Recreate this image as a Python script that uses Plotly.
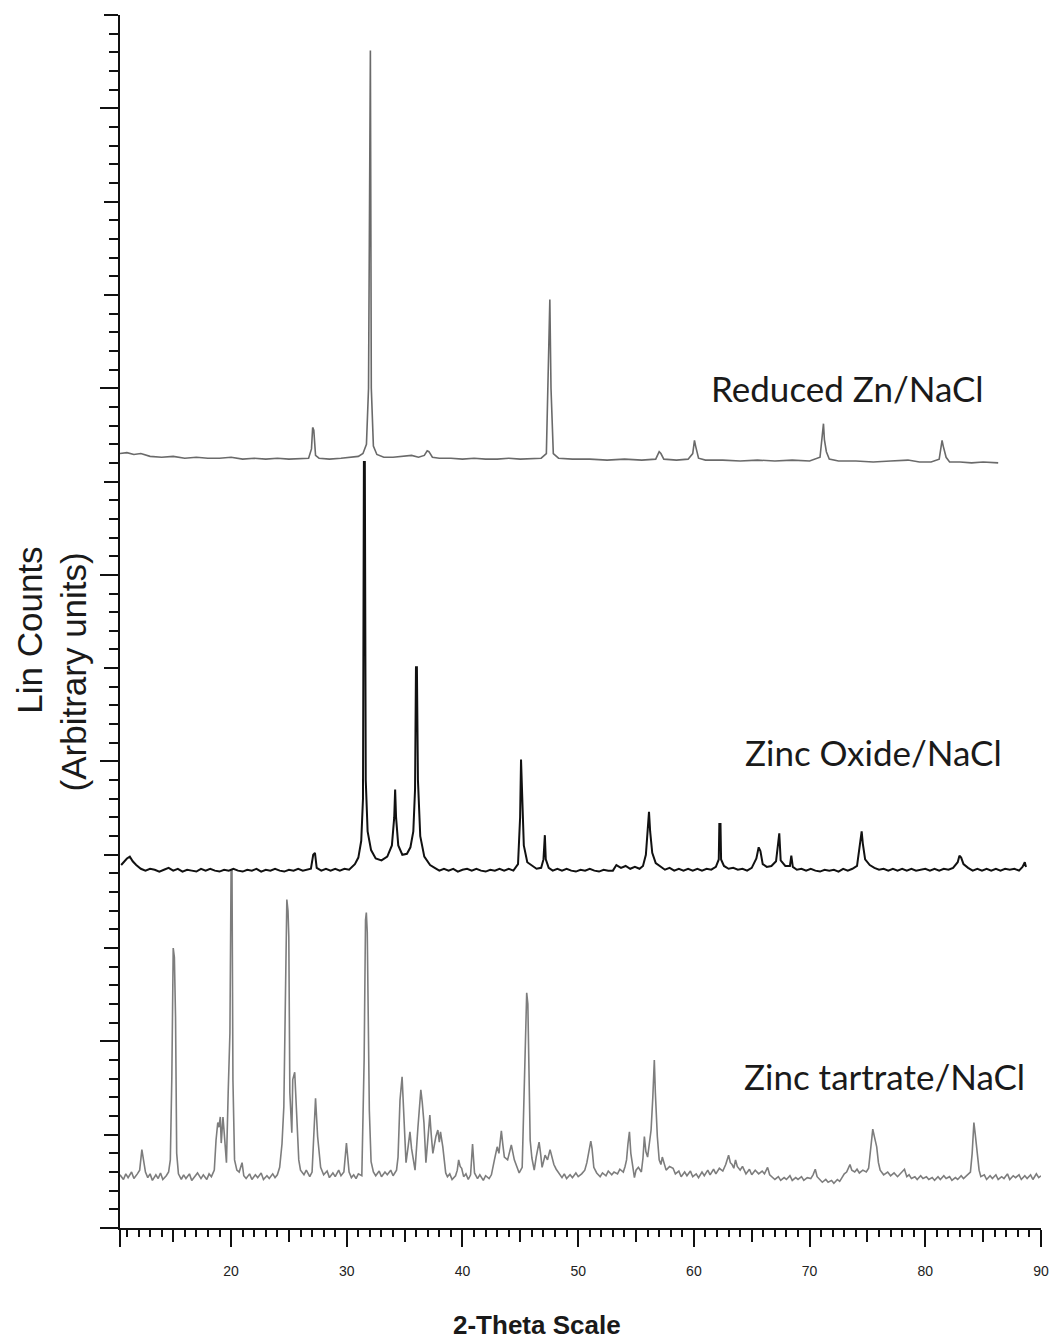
import plotly.graph_objects as go

# ---------------- data ----------------
zn_x = [10.4, 11.0, 11.6, 12.2, 13.0, 14.0, 15.0, 16.0, 17.0, 18.0, 19.0, 20.0, 21.0, 22.0, 23.0, 24.0,
        25.0, 26.0, 26.7, 26.95, 27.05, 27.15, 27.3, 27.6, 28.5, 29.5, 30.5, 31.0, 31.4, 31.7, 31.88,
        31.98, 32.04, 32.12, 32.3, 32.6, 33.2, 34.0, 35.0, 35.6, 36.2, 36.7, 36.95, 37.1, 37.4, 38.0,
        39.0, 40.0, 41.0, 42.0, 43.0, 44.0, 45.0, 46.0, 46.8, 47.25, 47.45, 47.55, 47.65, 47.85, 48.3,
        49.5, 51.0, 52.5, 54.0, 55.5, 56.7, 57.0, 57.15, 57.4, 58.5, 59.5, 59.9, 60.05, 60.15, 60.4,
        61.0, 62.5, 64.0, 65.5, 67.0, 68.5, 70.0, 70.9, 71.1, 71.2, 71.28, 71.45, 71.7, 72.5, 74.0,
        75.5, 77.0, 78.5, 79.5, 80.5, 81.2, 81.45, 81.55, 81.65, 81.8, 82.1, 83.0, 84.0, 85.0, 86.3]
zn_y = [830, 831, 829, 830, 827, 826, 827, 825, 826, 825, 825, 826, 824, 825, 824, 825,
        824, 825, 825, 835, 858, 855, 828, 825, 824, 825, 826, 827, 830, 840, 900,
        1262, 1262, 900, 838, 829, 826, 826, 827, 828, 826, 828, 833, 832, 826, 825,
        825, 824, 825, 824, 824, 825, 824, 825, 825, 830, 930, 995, 900, 830, 825,
        824, 824, 823, 824, 823, 824, 832, 830, 824, 823, 824, 830, 844, 838, 825,
        823, 823, 822, 823, 822, 823, 822, 826, 850, 862, 845, 832, 824, 822, 822,
        821, 822, 823, 821, 821, 824, 844, 838, 832, 826, 821, 821, 820, 821, 820]

zno_x = [10.5, 10.8, 11.0, 11.25, 11.5, 11.8, 12.2, 12.6, 13.0, 13.4, 13.8, 14.2, 14.6, 15.0, 15.4,
         15.8, 16.2, 16.6, 17.0, 17.4, 17.8, 18.2, 18.6, 19.0, 19.4, 19.8, 20.2, 20.6, 21.0, 21.4,
         21.8, 22.2, 22.6, 23.0, 23.4, 23.8, 24.2, 24.6, 25.0, 25.4, 25.8, 26.2, 26.6, 26.9, 27.1,
         27.25, 27.4, 27.8, 28.2, 28.6, 29.0, 29.4, 29.8, 30.2, 30.7, 31.0, 31.25, 31.4, 31.48,
         31.56, 31.64, 31.8, 32.1, 32.5, 33.0, 33.5, 33.9, 34.1, 34.18, 34.26, 34.45, 34.8, 35.2,
         35.5, 35.75, 35.9, 35.98, 36.06, 36.15, 36.35, 36.7, 37.2, 37.6, 38.0, 38.4, 38.8, 39.2,
         39.6, 40.0, 40.4, 40.8, 41.2, 41.6, 42.0, 42.4, 42.8, 43.2, 43.6, 44.0, 44.4, 44.8, 44.98,
         45.06, 45.14, 45.3, 45.6, 46.0, 46.4, 46.8, 47.0, 47.12, 47.2, 47.45, 47.8, 48.2, 48.6,
         49.0, 49.4, 49.8, 50.2, 50.6, 51.0, 51.4, 51.8, 52.2, 52.6, 53.0, 53.3, 53.7, 54.1, 54.5,
         54.9, 55.3, 55.6, 55.85, 56.0, 56.12, 56.22, 56.4, 56.7, 57.1, 57.5, 57.9, 58.3, 58.7,
         59.1, 59.5, 59.9, 60.3, 60.7, 61.1, 61.5, 61.9, 62.15, 62.2, 62.3, 62.35, 62.6, 63.0,
         63.4, 63.8, 64.2, 64.6, 65.0, 65.4, 65.6, 65.75, 65.95, 66.3, 66.7, 67.1, 67.38, 67.5,
         67.9, 68.3, 68.42, 68.55, 68.9, 69.3, 69.7, 70.1, 70.5, 70.9, 71.3, 71.7, 72.1, 72.5,
         72.9, 73.3, 73.7, 74.1, 74.35, 74.5, 74.6, 74.8, 75.2, 75.6, 76.0, 76.4, 76.8, 77.2,
         77.6, 78.0, 78.4, 78.8, 79.2, 79.6, 80.0, 80.4, 80.8, 81.2, 81.6, 82.0, 82.4, 82.8,
         82.95, 83.1, 83.3, 83.7, 84.1, 84.5, 84.9, 85.3, 85.7, 86.1, 86.5, 86.9, 87.3, 87.7,
         88.1, 88.4, 88.6, 88.7]
zno_y = [389, 393, 396, 398, 393, 389, 385, 383, 385, 384, 382, 384, 386, 383, 385,
         382, 384, 383, 382, 385, 383, 385, 383, 382, 384, 383, 385, 383, 382, 384,
         383, 385, 382, 384, 383, 385, 383, 382, 384, 383, 385, 383, 384, 385, 400,
         402, 386, 383, 385, 383, 385, 383, 385, 384, 390, 397, 415, 460, 821,
         821, 480, 425, 405, 396, 394, 398, 410, 440, 470, 440, 410, 400, 401,
         408, 425, 470, 601, 601, 480, 420, 398, 389, 386, 383, 385, 383, 385,
         382, 384, 385, 383, 385, 383, 382, 384, 383, 385, 383, 385, 383, 390, 440,
         502, 470, 410, 392, 388, 385, 386, 395, 421, 395, 386, 383, 385, 383,
         385, 383, 382, 384, 383, 385, 383, 382, 384, 383, 383, 389, 386, 388, 385,
         387, 385, 388, 400, 430, 446, 425, 402, 391, 387, 384, 386, 383, 385,
         383, 385, 383, 385, 383, 385, 384, 387, 395, 433, 433, 395, 388, 385,
         386, 384, 385, 383, 386, 396, 408, 404, 390, 387, 388, 393, 423, 394,
         388, 388, 399, 387, 384, 385, 383, 385, 383, 382, 384, 383, 384, 382,
         385, 383, 385, 388, 410, 425, 412, 395, 389, 386, 384, 385, 383, 385,
         383, 385, 383, 385, 383, 384, 385, 383, 385, 383, 385, 384, 386, 392,
         399, 397, 390, 386, 383, 385, 383, 385, 383, 385, 383, 385, 384, 385,
         383, 387, 392, 387]

tart_x = [10.4, 10.7, 10.9, 11.1, 11.4, 11.6, 11.9, 12.1, 12.29, 12.45, 12.6, 12.8, 13.0, 13.2, 13.5,
          13.7, 13.9, 14.1, 14.4, 14.6, 14.75, 14.88, 15.0, 15.1, 15.2, 15.3, 15.45, 15.7, 15.9,
          16.1, 16.4, 16.6, 16.9, 17.1, 17.4, 17.6, 17.9, 18.1, 18.3, 18.55, 18.7, 18.85, 18.95,
          19.07, 19.15, 19.3, 19.45, 19.6, 19.75, 19.9, 20.0, 20.08, 20.16, 20.3, 20.5, 20.7,
          20.95, 21.1, 21.3, 21.6, 21.8, 22.1, 22.3, 22.6, 22.8, 23.1, 23.3, 23.6, 23.8, 24.0,
          24.2, 24.4, 24.56, 24.73, 24.82, 24.92, 24.99, 25.08, 25.25, 25.33, 25.5, 25.68, 25.85,
          26.0, 26.3, 26.5, 26.8, 27.0, 27.22, 27.3, 27.48, 27.74, 28.0, 28.3, 28.5, 28.8, 29.0,
          29.3, 29.5, 29.75, 29.97, 30.2, 30.4, 30.6, 30.8, 31.0, 31.3, 31.5, 31.62, 31.69, 31.77,
          31.95, 32.1, 32.3, 32.5, 32.8, 33.0, 33.3, 33.5, 33.8, 34.0, 34.3, 34.43, 34.6, 34.78,
          34.95, 35.12, 35.3, 35.46, 35.6, 35.72, 35.9, 36.15, 36.3, 36.4, 36.52, 36.67, 36.84,
          37.0, 37.18, 37.3, 37.44, 37.7, 37.87, 38.0, 38.1, 38.3, 38.55, 38.7, 38.9, 39.1, 39.4,
          39.55, 39.67, 39.8, 39.93, 40.1, 40.3, 40.5, 40.7, 40.87, 41.04, 41.3, 41.5, 41.8, 42.0,
          42.3, 42.5, 42.76, 43.0, 43.15, 43.36, 43.5, 43.62, 43.9, 44.05, 44.22, 44.48, 44.7,
          44.9, 45.16, 45.33, 45.45, 45.55, 45.65, 45.77, 45.85, 46.0, 46.2, 46.37, 46.62, 46.75,
          46.88, 47.14, 47.35, 47.57, 47.75, 47.9, 48.1, 48.34, 48.6, 48.8, 49.0, 49.3, 49.5,
          49.8, 50.0, 50.3, 50.57, 50.75, 50.92, 51.09, 51.2, 51.35, 51.6, 51.9, 52.1, 52.4,
          52.6, 52.9, 53.1, 53.4, 53.6, 53.9, 54.05, 54.18, 54.3, 54.43, 54.55, 54.7, 54.86,
          55.0, 55.2, 55.46, 55.6, 55.72, 55.85, 56.0, 56.15, 56.3, 56.45, 56.58, 56.67, 56.84,
          57.0, 57.15, 57.27, 57.4, 57.6, 57.9, 58.2, 58.4, 58.7, 58.9, 59.2, 59.4, 59.7, 59.9,
          60.2, 60.4, 60.7, 60.9, 61.2, 61.4, 61.7, 61.9, 62.2, 62.5, 62.75, 63.0, 63.15, 63.3,
          63.45, 63.6, 63.75, 64.0, 64.2, 64.5, 64.8, 65.0, 65.3, 65.6, 65.9, 66.1, 66.37, 66.55,
          66.8, 67.0, 67.3, 67.5, 67.8, 68.0, 68.3, 68.5, 68.8, 69.0, 69.3, 69.5, 69.8, 70.1,
          70.3, 70.49, 70.65, 70.9, 71.1, 71.4, 71.6, 71.9, 72.1, 72.4, 72.6, 72.8, 73.0, 73.2,
          73.35, 73.49, 73.65, 73.9, 74.1, 74.3, 74.6, 74.9, 75.1, 75.3, 75.46, 75.6, 75.8, 75.95,
          76.1, 76.4, 76.75, 77.0, 77.3, 77.6, 77.95, 78.2, 78.4, 78.6, 78.8, 79.1, 79.3, 79.6,
          79.8, 80.1, 80.3, 80.6, 80.8, 81.1, 81.3, 81.6, 81.8, 82.1, 82.3, 82.6, 82.8, 83.1,
          83.3, 83.6, 83.9, 84.05, 84.2, 84.32, 84.5, 84.65, 84.8, 85.1, 85.3, 85.6, 85.8, 86.1,
          86.3, 86.6, 86.8, 87.1, 87.3, 87.6, 87.8, 88.1, 88.3, 88.6, 88.8, 89.1, 89.3, 89.6,
          89.8, 90.0]
tart_y = [57, 52, 58, 54, 60, 53, 58, 62, 84, 70, 60, 54, 58, 51, 57,
          53, 59, 52, 56, 60, 73, 162, 300, 290, 226, 80, 58, 52, 57,
          53, 58, 51, 56, 59, 53, 57, 52, 58, 55, 62, 94, 113, 108,
          119, 91, 119, 95, 70, 145, 209, 383, 383, 159, 73, 62, 60,
          70, 56, 53, 58, 52, 57, 54, 59, 52, 56, 53, 58, 54, 57,
          65, 90, 130, 319, 352, 340, 312, 145, 102, 159, 167, 119, 73,
          62, 57, 62, 55, 60, 123, 139, 98, 65, 57, 61, 54, 59, 55,
          62, 56, 60, 91, 60, 54, 57, 53, 58, 56, 180, 330, 338, 317,
          126, 71, 60, 56, 61, 55, 60, 57, 62, 56, 62, 76, 137, 162,
          108, 70, 87, 103, 85, 76, 62, 108, 130, 148, 135, 113, 70,
          95, 121, 100, 80, 98, 105, 92, 103, 87, 59, 55, 58, 52, 56,
          62, 73, 66, 64, 55, 58, 52, 57, 90, 59, 53, 57, 51, 56,
          53, 57, 73, 87, 80, 104, 88, 76, 73, 80, 89, 73, 65,
          59, 65, 155, 230, 252, 240, 155, 94, 75, 62, 76, 92, 80,
          65, 78, 73, 84, 75, 68, 63, 59, 54, 58, 53, 57, 54,
          59, 55, 58, 62, 70, 80, 93, 85, 65, 59, 55, 59, 56,
          61, 57, 60, 58, 63, 60, 66, 73, 90, 103, 80, 65, 54,
          62, 65, 60, 75, 98, 82, 76, 90, 105, 140, 180, 145, 98,
          73, 68, 76, 70, 62, 66, 64, 58, 61, 55, 60, 56, 61, 55,
          58, 54, 60, 56, 62, 57, 63, 58, 64, 61, 68, 78, 70, 68,
          64, 73, 66, 62, 66, 58, 63, 57, 62, 58, 61, 58, 65, 57,
          54, 52, 55, 51, 54, 52, 56, 51, 54, 52, 55, 51, 54, 53,
          57, 63, 55, 51, 49, 52, 49, 51, 48, 52, 50, 54, 58, 60,
          64, 68, 62, 60, 63, 59, 62, 60, 64, 85, 106, 98, 87, 70,
          62, 57, 60, 56, 59, 55, 60, 63, 55, 57, 53, 55, 52, 56,
          53, 55, 52, 54, 51, 55, 52, 56, 53, 55, 51, 54, 52, 56,
          53, 57, 60, 80, 113, 100, 76, 62, 55, 57, 52, 56, 53, 57,
          52, 55, 53, 58, 52, 56, 54, 57, 52, 56, 53, 57, 52, 58,
          54, 56]

series_names = ["Reduced Zn/NaCl", "Zinc Oxide/NaCl", "Zinc tartrate/NaCl"]
label_x = [73.3, 75.5, 76.5]
label_y = [900, 510, 163]

x_major = [20, 30, 40, 50, 60, 70, 80, 90]
x_mid = [15, 25, 35, 45, 55, 65, 75, 85]
y_all = list(range(0, 1301, 100))
y_long = [0, 200, 500, 700, 900, 1200]

X_RANGE = [10.4, 90]
Y_RANGE = [0, 1300]

# ---------------- figure ----------------
fig = go.Figure()
fig.add_trace(go.Scatter(x=tart_x, y=tart_y, mode="lines", name=series_names[2],
                         line=dict(color="#7d7d7d", width=1.6), hoverinfo="skip"))
fig.add_trace(go.Scatter(x=zno_x, y=zno_y, mode="lines", name=series_names[1],
                         line=dict(color="#111111", width=2), hoverinfo="skip"))
fig.add_trace(go.Scatter(x=zn_x, y=zn_y, mode="lines", name=series_names[0],
                         line=dict(color="#6a6a6a", width=1.6), hoverinfo="skip"))
# empty trace to carry the overlay axes used for the longer ticks
fig.add_trace(go.Scatter(x=[], y=[], xaxis="x2", yaxis="y2", showlegend=False, hoverinfo="skip"))

for name, lx, ly in zip(series_names, label_x, label_y):
    fig.add_annotation(x=lx, y=ly, xref="x", yref="y", text=name, showarrow=False,
                       xanchor="center", yanchor="middle",
                       font=dict(family="Lato", size=35, color="#1a1a1a"))

# y-axis title (two lines, rotated)
fig.add_annotation(x=-0.098, y=0.493, xref="paper", yref="paper", text="Lin Counts",
                   textangle=-90, showarrow=False, xanchor="center", yanchor="middle",
                   font=dict(family="Liberation Sans", size=35, color="#1a1a1a"))
fig.add_annotation(x=-0.051, y=0.458, xref="paper", yref="paper", text="(Arbitrary units)",
                   textangle=-90, showarrow=False, xanchor="center", yanchor="middle",
                   font=dict(family="Liberation Sans", size=35, color="#1a1a1a"))
# x-axis title
fig.add_annotation(x=0.453, y=-0.080, xref="paper", yref="paper", text="<b>2-Theta Scale</b>",
                   showarrow=False, xanchor="center", yanchor="middle",
                   font=dict(family="Liberation Sans", size=26, color="#1a1a1a"))

fig.update_layout(
    width=1061, height=1339,
    margin=dict(l=120, r=14, t=15, b=111),
    paper_bgcolor="white", plot_bgcolor="white",
    showlegend=False,
    xaxis=dict(range=X_RANGE, showgrid=False, zeroline=False,
               showline=True, linecolor="#111111", linewidth=2,
               ticks="outside", tickvals=[10.4] + x_major,
               ticktext=[""] + [str(v) for v in x_major],
               ticklen=17, tickwidth=2, tickcolor="#111111",
               ticklabelstandoff=12,
               tickfont=dict(family="Liberation Sans", size=14, color="#222222"),
               minor=dict(dtick=1, tick0=0, ticks="outside", ticklen=7,
                          tickwidth=1.5, tickcolor="#111111", showgrid=False)),
    xaxis2=dict(range=X_RANGE, overlaying="x", anchor="y", side="bottom",
                showgrid=False, zeroline=False, showline=False,
                ticks="outside", tickvals=x_mid, ticklen=13, tickwidth=2,
                tickcolor="#111111", showticklabels=False),
    yaxis=dict(range=Y_RANGE, showgrid=False, zeroline=False,
               showline=True, linecolor="#111111", linewidth=2,
               ticks="outside", tickvals=y_all, ticklen=14, tickwidth=2,
               tickcolor="#111111", showticklabels=False,
               minor=dict(dtick=20, tick0=0, ticks="outside", ticklen=9,
                          tickwidth=2, tickcolor="#111111", showgrid=False)),
    yaxis2=dict(range=Y_RANGE, overlaying="y", anchor="x", side="left",
                showgrid=False, zeroline=False, showline=False,
                ticks="outside", tickvals=y_long, ticklen=19, tickwidth=2,
                tickcolor="#111111", showticklabels=False),
)

fig.write_html("out.html")
